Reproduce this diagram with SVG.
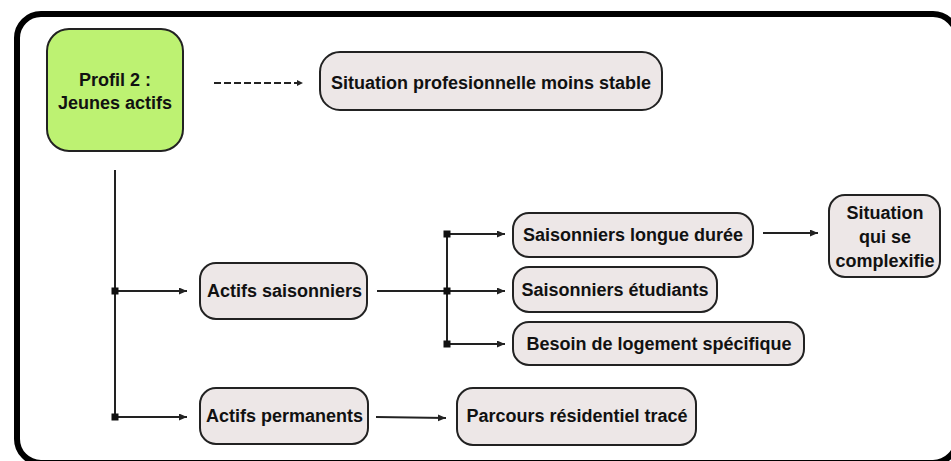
<svg xmlns="http://www.w3.org/2000/svg" width="951" height="461" viewBox="0 0 951 461">
  <defs>
    <marker id="arr" markerUnits="userSpaceOnUse" markerWidth="9" markerHeight="8" refX="8" refY="3.5" orient="auto">
      <path d="M0,0 L8,3.5 L0,7 z" fill="#222"/>
    </marker>
    <marker id="arrs" markerUnits="userSpaceOnUse" markerWidth="7" markerHeight="6" refX="6" refY="3" orient="auto">
      <path d="M0,0 L6,3 L0,6 z" fill="#222"/>
    </marker>
  </defs>
  <style>
    .node { fill: #ede7e7; stroke: #222; stroke-width: 2; }
    .green { fill: #bdf272; stroke: #222; stroke-width: 2; }
    .lbl { font-family: "Liberation Sans", Arial, sans-serif; font-weight: bold; font-size: 18px; fill: #111; text-anchor: middle; }
    .ln { stroke: #222; stroke-width: 2; fill: none; }
    .dot { fill: #111; }
  </style>
  <rect x="17" y="14" width="940" height="449" rx="24" fill="#fff" stroke="#000" stroke-width="6"/>

  <g id="connectors">
    <line class="ln" x1="214" y1="83" x2="303" y2="83" stroke-dasharray="7,3" marker-end="url(#arrs)"/>
    <line class="ln" x1="115" y1="170" x2="115" y2="417"/>
    <line class="ln" x1="115" y1="291" x2="187" y2="291" marker-end="url(#arr)"/>
    <line class="ln" x1="115" y1="417" x2="187" y2="417" marker-end="url(#arr)"/>
    <line class="ln" x1="377" y1="291" x2="505" y2="291" marker-end="url(#arr)"/>
    <line class="ln" x1="447" y1="234" x2="447" y2="344"/>
    <line class="ln" x1="447" y1="234" x2="505" y2="234" marker-end="url(#arr)"/>
    <line class="ln" x1="447" y1="344" x2="505" y2="344" marker-end="url(#arr)"/>
    <line class="ln" x1="376" y1="417" x2="446" y2="418" marker-end="url(#arr)"/>
    <line class="ln" x1="763" y1="233" x2="818" y2="233" marker-end="url(#arr)"/>
    <rect class="dot" x="111.5" y="287.5" width="7" height="7"/>
    <rect class="dot" x="111.5" y="413.5" width="7" height="7"/>
    <rect class="dot" x="443.5" y="230.5" width="7" height="7"/>
    <rect class="dot" x="443.5" y="287.5" width="7" height="7"/>
    <rect class="dot" x="443.5" y="340.5" width="7" height="7"/>
  </g>

  <g id="profil">
    <rect class="green" x="47" y="29" width="136" height="122" rx="22"/>
    <text class="lbl" x="115" y="86">Profil 2 :</text>
    <text class="lbl" x="115" y="109">Jeunes actifs</text>
  </g>
  <g id="situation-pro">
    <rect class="node" x="320" y="52" width="342" height="58" rx="20"/>
    <text class="lbl" x="491" y="89">Situation profesionnelle moins stable</text>
  </g>
  <g id="actifs-saisonniers">
    <rect class="node" x="200" y="263" width="167" height="56" rx="16"/>
    <text class="lbl" x="284.5" y="297">Actifs saisonniers</text>
  </g>
  <g id="actifs-permanents">
    <rect class="node" x="200" y="388" width="168" height="56" rx="16"/>
    <text class="lbl" x="284.5" y="422">Actifs permanents</text>
  </g>
  <g id="saisonniers-longue">
    <rect class="node" x="513" y="213" width="240" height="44" rx="16"/>
    <text class="lbl" x="633" y="241">Saisonniers longue durée</text>
  </g>
  <g id="saisonniers-etudiants">
    <rect class="node" x="513" y="267" width="204" height="45" rx="16"/>
    <text class="lbl" x="615" y="296">Saisonniers étudiants</text>
  </g>
  <g id="besoin-logement">
    <rect class="node" x="513" y="322" width="291" height="43" rx="16"/>
    <text class="lbl" x="659" y="350">Besoin de logement spécifique</text>
  </g>
  <g id="parcours">
    <rect class="node" x="457" y="388" width="239" height="57" rx="16"/>
    <text class="lbl" x="577" y="422">Parcours résidentiel tracé</text>
  </g>
  <g id="situation-complexe">
    <rect class="node" x="829" y="195" width="111" height="82" rx="16"/>
    <text class="lbl" x="885" y="219">Situation</text>
    <text class="lbl" x="885" y="243">qui se</text>
    <text class="lbl" x="885" y="267">complexifie</text>
  </g>
</svg>
